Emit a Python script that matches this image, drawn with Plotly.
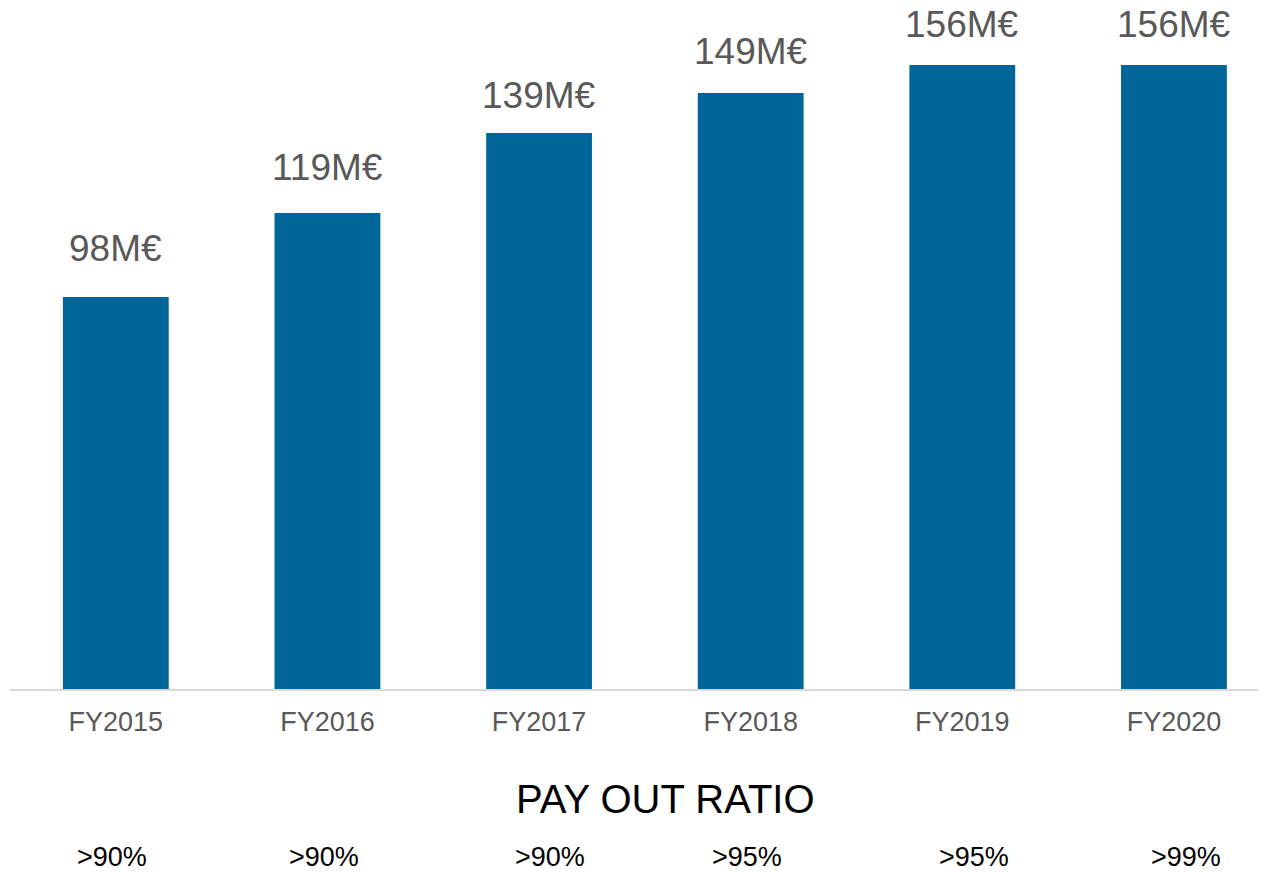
import plotly.graph_objects as go

years = ["FY2015", "FY2016", "FY2017", "FY2018", "FY2019", "FY2020"]
dividends = [98, 119, 139, 149, 156, 156]
value_labels = ["98M€", "119M€", "139M€", "149M€", "156M€", "156M€"]
payout_ratios = [">90%", ">90%", ">90%", ">95%", ">95%", ">99%"]

# page body has an 8px margin, so the figure is sized to fit the window
OFF = 8
W, H = 1266 - OFF, 872 - OFF
ML, MR, MT, MB = 2, 0, 12, 183
PW, PH = W - ML - MR, H - MT - MB

def px_x(px):
    return (px - OFF - ML) / PW

def px_y(py):
    return (H - MB - (py - OFF)) / PH

FONT = "Liberation Sans, Arial, sans-serif"
BLUE = "#006699"
GREY = "#595959"

fig = go.Figure(go.Bar(
    x=years, y=dividends,
    marker=dict(color=BLUE, line_width=0),
    width=0.5,
    hoverinfo="skip",
))

# value labels above bars (hand placed in the original, offsets vary a bit)
label_shift = [48, 45, 37, 41, 40, 40]
for yr, v, txt, sh in zip(years, dividends, value_labels, label_shift):
    fig.add_annotation(x=yr, y=v, text=txt, showarrow=False,
                       yanchor="middle", yshift=sh + 1,
                       font=dict(size=37, color=GREY, family=FONT))

fig.add_annotation(x=px_x(665.5), y=px_y(798.8), xref="paper", yref="paper",
                   text="PAY OUT RATIO", showarrow=False, xanchor="center",
                   yanchor="middle", yshift=0,
                   font=dict(size=40, color="black", family=FONT))

ratio_x = [111.5, 323.7, 550, 747, 973.5, 1185.8]
for px, txt in zip(ratio_x, payout_ratios):
    fig.add_annotation(x=px_x(px), y=px_y(857.5), xref="paper", yref="paper",
                       text=txt, showarrow=False, xanchor="center",
                       yanchor="middle", yshift=0,
                       font=dict(size=27, color="black", family=FONT))

fig.update_layout(
    width=W, height=H,
    margin=dict(l=ML, r=MR, t=MT, b=MB),
    plot_bgcolor="white", paper_bgcolor="white",
    showlegend=False,
    bargap=0.5,
)
fig.update_xaxes(range=[-0.5, 5.435], showline=True, linecolor="#d9d9d9",
                 linewidth=2, showgrid=False, ticks="", ticklabelstandoff=8,
                 tickfont=dict(size=27, color=GREY, family=FONT))
fig.update_yaxes(range=[0, PH / 4], visible=False, showgrid=False)

fig.write_html("out.html")
